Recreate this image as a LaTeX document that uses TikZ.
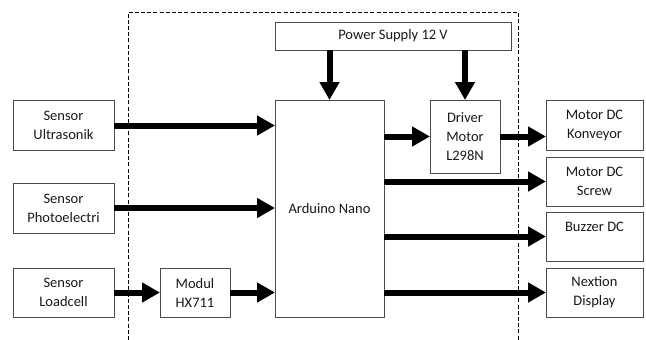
\documentclass[tikz,border=0pt]{standalone}
\usepackage{fontspec}
\setmainfont{Carlito}
\usetikzlibrary{arrows.meta}
\begin{document}
\begin{tikzpicture}[x=1pt,y=-1pt,
  blk/.style={draw=black!70,line width=0.9pt,inner sep=0pt,outer sep=0pt,align=center,
    font=\fontsize{14.5}{19}\selectfont,text=black!90},
  flow/.style={line width=6pt,-{Triangle[length=18pt,width=19pt]}},
  bound/.style={line width=1pt,dash pattern=on 4pt off 2.2pt}]
\useasboundingbox (0,0) rectangle (646,340);
\draw[bound] (128,340) -- (128,12) -- (518,12) -- (518,340);
\node[blk,minimum width=236pt,minimum height=28pt] (ps) at (393,36) {Power Supply 12 V};
\node[blk,minimum width=109pt,minimum height=217pt] (ard) at (329.5,208.5) {Arduino Nano};
\node[blk,minimum width=70pt,minimum height=73pt] (drv) at (465,136.5) {Driver\\Motor\\L298N};
\node[blk,minimum width=97pt,minimum height=50pt] (kon) at (594.5,125) {Motor DC\\Konveyor};
\node[blk,minimum width=97pt,minimum height=49pt] (scr) at (594.5,181.5) {Motor DC\\Screw};
\node[blk,minimum width=97pt,minimum height=49pt] (buz) at (594.5,236.5) {Buzzer DC\\\mbox{}};
\node[blk,minimum width=97pt,minimum height=49pt] (nex) at (594.5,292.5) {Nextion\\Display};
\node[blk,minimum width=101pt,minimum height=50pt] (ult) at (63.5,125.5) {Sensor\\Ultrasonik};
\node[blk,minimum width=101pt,minimum height=50pt] (pho) at (63.5,208) {Sensor\\Photoelectri};
\node[blk,minimum width=101pt,minimum height=49pt] (lc) at (63.5,292.5) {Sensor\\Loadcell};
\node[blk,minimum width=70pt,minimum height=49pt] (hx) at (195,292.5) {Modul\\HX711};
\draw[flow] (ps.south -| ard.north) -- (ard.north);
\draw[flow] (ps.south -| drv.north) -- (drv.north);
\draw[flow] (ult.east) -- (ult.east -| ard.west);
\draw[flow] (pho.east) -- (pho.east -| ard.west);
\draw[flow] (lc.east) -- (hx.west);
\draw[flow] (hx.east) -- (hx.east -| ard.west);
\draw[flow] (ard.east |- drv.west) -- (drv.west);
\draw[flow] (drv.east) -- (drv.east -| kon.west);
\draw[flow] (ard.east |- scr.west) -- (scr.west);
\draw[flow] (ard.east |- buz.west) -- (buz.west);
\draw[flow] (ard.east |- nex.west) -- (nex.west);
\end{tikzpicture}
\end{document}
